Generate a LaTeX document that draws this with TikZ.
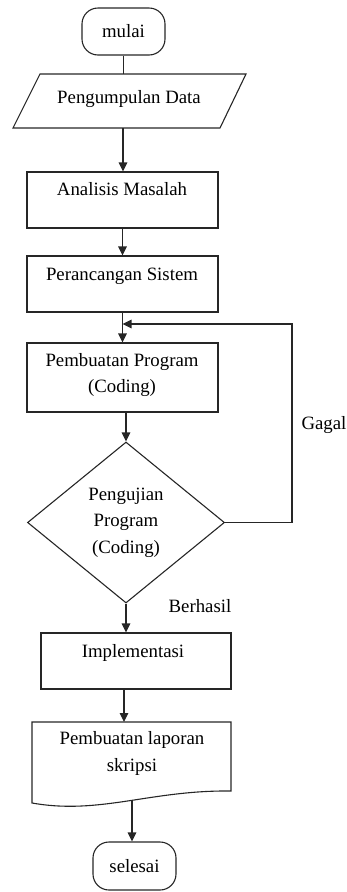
\documentclass[tikz,border=0pt]{standalone}
\usepackage{fontspec}
\setmainfont{Liberation Serif}
\newfontfamily\chartfont{Liberation Serif}
\usetikzlibrary{shapes.geometric,arrows.meta,calc}

\begin{document}
\begin{tikzpicture}[x=1pt,y=-1pt,
  every node/.style={font=\chartfont\fontsize{18.8}{26.5}\selectfont, text=black},
  line/.style={draw=black!85, line width=1.1pt},
  arr/.style={line, -{Triangle[length=9pt,width=8.5pt]}},
  box/.style={line, rectangle, inner sep=0pt},
  term/.style={line, rectangle, rounded corners=16pt, minimum width=83pt, inner sep=0pt},
  dec/.style={line, diamond, inner sep=0pt, align=center},
  lbl/.style={inner sep=0pt, align=center}]

\useasboundingbox (0,0) rectangle (346,892);

% start terminal
\node[term, minimum height=47pt] (mulai) at (123.5,31.5) {mulai};

% input: data collection (parallelogram)
\draw[line] (40,74) -- (246,74) -- (220,128) -- (13,128) -- cycle;
\node[lbl] (data) at (129,99) {Pengumpulan Data};
\coordinate (dataN) at (123,74);
\coordinate (dataS) at (123,128);

% process steps
\node[box, minimum width=191pt, minimum height=56pt] (anl) at (122.5,200) {};
\node[lbl] (anl-t) at (122,189) {Analisis Masalah};

\node[box, minimum width=191pt, minimum height=56pt] (per) at (122.5,284) {};
\node[lbl] (per-t) at (122,276) {Perancangan Sistem};

\node[box, minimum width=191pt, minimum height=69pt] (pem) at (122.5,377.5) {};
\node[lbl] (pem-t) at (122,375) {Pembuatan Program\\(Coding)};

% decision
\node[dec, minimum width=197pt, minimum height=161pt] (dec) at (126,522.5)
  {Pengujian\\Program\\(Coding)};

\node[box, minimum width=190pt, minimum height=56pt] (impl) at (136,661) {};
\node[lbl] (impl-t) at (133,653) {Implementasi};

% document: report writing
\draw[line] (32,722) -- (231,722) -- (231,791)
  .. controls (150,790) and (100,815) .. (32,803) -- cycle;
\node[lbl] (doc) at (132,753.5) {Pembuatan laporan\\skripsi};
\coordinate (docN) at (124,722);
\coordinate (docS) at (132,800);

% end terminal
\node[term, minimum height=48pt] (sel) at (134.5,866) {selesai};

% connectors
\draw[line] (mulai.south) -- (mulai.south |- dataN);
\draw[arr] (dataS) -- (dataS |- anl.north);
\draw[arr] (anl.south) -- (per.north);
\draw[arr] (per.south) -- (pem.north);
\draw[arr] (pem.south -| dec.north) -- (dec.north);
\draw[arr] (dec.south) -- (dec.south |- impl.north);
\draw[arr] (docN |- impl.south) -- (docN);
\draw[arr] (docS) -- (docS |- sel.north);

% failure loop back to coding
\coordinate (loopR) at (292,324);
\draw[arr] (dec.east) -- (dec.east -| loopR) -- (loopR) -- (loopR -| per.south);

% branch labels
\node[lbl] (gagal) at (324,425) {Gagal};
\node[lbl] (berhasil) at (200,606) {Berhasil};

\end{tikzpicture}
\end{document}
